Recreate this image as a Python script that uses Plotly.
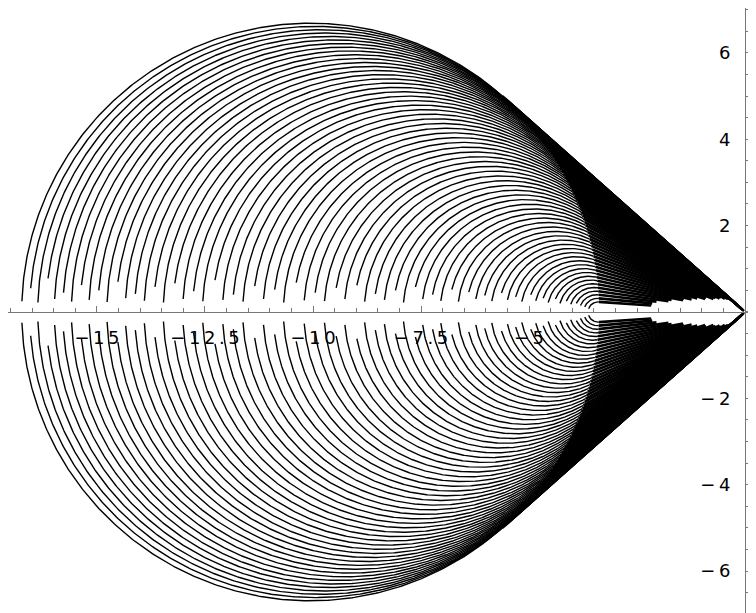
import numpy as np
import plotly.graph_objects as go

# ---- data ----
# outer circle (left edge about -16.8, top about 6.7)
outer_center = -10.08
outer_radius = 6.70
# angle (deg, seen from the outer centre) of the point on the outer circle's
# right side where each curve leaves its circle and heads for the tip
leave_angle = [48.2, 47.5, 46.8, 46.1, 45.4, 44.7, 44.0, 43.3, 42.6, 41.9,
               41.2, 40.5, 39.8, 39.1, 38.4, 37.7, 37.0, 36.3, 35.6, 34.9,
               34.2, 33.5, 32.8, 32.1, 31.4, 30.7, 30.0, 29.3, 28.6, 27.9,
               27.2, 26.5, 25.8, 25.1, 24.4, 23.7, 23.0, 22.3, 21.6, 20.9,
               20.2, 19.5, 18.8, 18.1, 17.4, 16.7, 16.0, 15.3, 14.6, 13.9,
               13.2, 12.5, 11.8, 11.1, 10.4, 9.7, 9.0, 8.3, 7.6, 6.9,
               6.2, 5.5, 4.8, 4.1, 3.4, 2.7, 2.0]
# height above the axis where each arc stops on the left
gap_left = [0.25, 0.55, 0.22, 0.78, 0.3, 0.45, 0.24, 0.62, 0.28, 0.5,
            0.23, 0.7, 0.32, 0.42, 0.26, 0.58, 0.22, 0.66, 0.3, 0.48,
            0.25, 0.74, 0.28, 0.4, 0.24, 0.6, 0.3, 0.52, 0.22, 0.68,
            0.27, 0.45, 0.25, 0.56, 0.3, 0.62, 0.24, 0.42, 0.28, 0.5,
            0.22, 0.58, 0.3, 0.4, 0.26, 0.52, 0.24, 0.46, 0.3, 0.38,
            0.25, 0.44, 0.28, 0.35, 0.24, 0.4, 0.26, 0.32, 0.22, 0.3,
            0.2, 0.25, 0.18, 0.2, 0.15, 0.12, 0.08]
# height above the axis where each line toward the tip stops
gap_tip = [0.02, 0.04, 0.06, 0.08, 0.1, 0.13, 0.16, 0.2, 0.24, 0.28,
           0.33, 0.26, 0.38, 0.3, 0.42, 0.34, 0.4, 0.29, 0.44, 0.35,
           0.39, 0.31, 0.45, 0.36, 0.41, 0.3, 0.43, 0.37, 0.33, 0.44,
           0.38, 0.3, 0.42, 0.35, 0.4, 0.32, 0.44, 0.36, 0.3, 0.41,
           0.37, 0.33, 0.43, 0.35, 0.39, 0.31, 0.42, 0.36, 0.32, 0.4,
           0.35, 0.3, 0.38, 0.33, 0.36, 0.3, 0.34, 0.31, 0.33, 0.29,
           0.3, 0.27, 0.28, 0.25, 0.24, 0.2, 0.15]
x_ticks = [-15, -12.5, -10, -7.5, -5]
y_ticks = [-6, -4, -2, 2, 4, 6]

ax_x, ax_y = [], []   # circle arcs
ln_x, ln_y = [], []   # segments toward the tip
for phi, hl, ht in zip(leave_angle, gap_left, gap_tip):
    p = np.radians(phi)
    Tx = outer_center + outer_radius * np.cos(p)
    Ty = outer_radius * np.sin(p)
    # circle centred on the axis whose radius at T is perpendicular to OT
    cx = (Tx * Tx + Ty * Ty) / Tx
    r = np.hypot(Tx - cx, Ty)
    hl = min(hl, 0.7 * r)
    th_start = np.pi - np.arcsin(hl / r)
    th_t = np.arctan2(Ty, Tx - cx)
    for sgn in (1, -1):
        th = np.linspace(th_start, th_t, 300)
        ax_x += list(cx + r * np.cos(th)) + [None]
        ax_y += list(sgn * r * np.sin(th)) + [None]
        if ht < Ty:
            s = ht / Ty
            ln_x += [Tx, Tx * s, None]
            ln_y += [sgn * Ty, sgn * Ty * s, None]

fig = go.Figure()
fig.add_trace(go.Scatter(x=ax_x, y=ax_y, mode="lines",
                         line=dict(color="black", width=1.4),
                         hoverinfo="skip", showlegend=False))
fig.add_trace(go.Scatter(x=ln_x, y=ln_y, mode="lines",
                         line=dict(color="black", width=2.6),
                         hoverinfo="skip", showlegend=False))

TS = "\u2009"
def lab(v):
    s = ("%g" % v).replace("-", "\u2212")
    return TS.join(list(s))

# the page adds an 8 px body margin, so the figure is 8 px smaller
W, H = 748, 605
xmin, xmax = -17.060, 0.2546
ymin, ymax = -6.968, 7.037
axcol = "#777777"
fig.update_layout(
    width=W, height=H,
    margin=dict(l=0, r=0, t=0, b=0, autoexpand=False),
    paper_bgcolor="white", plot_bgcolor="white",
    font=dict(family="DejaVu Sans", size=18, color="black"),
    xaxis=dict(range=[xmin, xmax], anchor="free", automargin=False,
               position=(0 - ymin) / (ymax - ymin),
               showgrid=False, zeroline=False, showline=True,
               linecolor=axcol, linewidth=1,
               ticks="inside", ticklen=6, tickcolor=axcol,
               tickvals=x_ticks, ticktext=[lab(v) for v in x_ticks],
               ticklabelstandoff=9,
               minor=dict(ticks="inside", ticklen=4, tickcolor=axcol,
                          dtick=0.5, showgrid=False)),
    yaxis=dict(range=[ymin, ymax], anchor="free", automargin=False,
               position=(0 - xmin) / (xmax - xmin),
               showgrid=False, zeroline=False, showline=True,
               linecolor=axcol, linewidth=1,
               ticks="inside", ticklen=6, tickcolor=axcol,
               tickvals=y_ticks, ticktext=[lab(v) for v in y_ticks],
               ticklabelstandoff=11,
               minor=dict(ticks="inside", ticklen=4, tickcolor=axcol,
                          dtick=0.5, showgrid=False)),
)
fig.write_html("out.html")
